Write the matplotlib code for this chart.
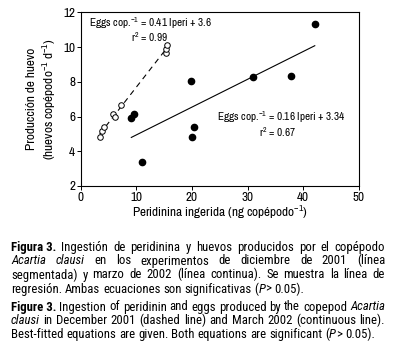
import matplotlib
matplotlib.use('Agg')
import matplotlib.pyplot as plt
import numpy as np

# DATA
# December 2001 (open circles, dashed line)
dec_x = [3.4, 3.9, 4.2, 5.8, 6.1, 7.2, 15.4, 15.3, 15.5]
dec_y = [4.82, 5.16, 5.37, 6.14, 5.98, 6.64, 9.64, 9.89, 10.14]

# March 2002 (filled circles, continuous line)
mar_x = [9.1, 9.6, 11.0, 19.8, 20.1, 20.4, 30.9, 37.8, 42.1]
mar_y = [5.91, 6.14, 3.4, 8.03, 4.83, 5.41, 8.25, 8.34, 11.33]
mar_fit = [0.16, 3.34]

x_ticks = [0, 10, 20, 30, 40, 50]
y_ticks = [2, 4, 6, 8, 10, 12]

FONT = ['Archivo Narrow', 'Roboto Condensed', 'Liberation Sans', 'DejaVu Sans']
CAP_FONT = ['Roboto Condensed', 'Liberation Sans', 'DejaVu Sans']
plt.rcParams['font.family'] = FONT
plt.rcParams['mathtext.fontset'] = 'custom'
plt.rcParams['mathtext.rm'] = 'Archivo Narrow'
plt.rcParams['mathtext.it'] = 'Archivo Narrow:italic'
plt.rcParams['mathtext.default'] = 'regular'

W, H = 394, 352
fig = plt.figure(figsize=(W / 100, H / 100), dpi=100)
ax = fig.add_axes([80.7 / W, 1 - 186 / H, (358.7 - 80.7) / W, (186 - 12.3) / H])

# dashed regression (December)
dec_fit = np.polyfit(dec_x, dec_y, 1)
xd = np.array([min(dec_x), max(dec_x)])
ax.plot(xd, np.polyval(dec_fit, xd), color='black', lw=0.8, dashes=(5, 4))
ax.plot(dec_x, dec_y, 'o', mfc='white', mec='black', ms=4, mew=0.7)

# continuous regression (March)
xm = np.array([min(mar_x), max(mar_x)])
ax.plot(xm, np.polyval(mar_fit, xm), color='black', lw=0.8)
ax.plot(mar_x, mar_y, 'o', color='black', ms=4.5)

ax.set_xlim(0, 50)
ax.set_ylim(2, 12)
ax.set_xticks(x_ticks)
ax.set_yticks(y_ticks)
ax.tick_params(labelsize=9.5, length=3, width=0.7, pad=1)
for s in ax.spines.values():
    s.set_linewidth(0.8)

ax.set_xlabel('Peridinina ingerida (ng copépodo$^{-1}$)', fontsize=9.5, labelpad=1)
ax.set_ylabel('Producción de huevo\n(huevos copépodo$^{-1}$ d$^{-1}$)', fontsize=9.5,
              labelpad=4, linespacing=1.25)

ax.text(1.5, 11.35, 'Eggs cop.$^{-1}$ = 0.41 Iperi + 3.6', fontsize=8.1, va='center')
ax.text(12.4, 10.58, 'r$^{2}$ = 0.99', fontsize=8.1, va='center', ha='center')
ax.text(24.5, 5.95, 'Eggs cop.$^{-1}$ = 0.16 Iperi + 3.34', fontsize=8.1, va='center')
ax.text(35.4, 5.12, 'r$^{2}$ = 0.67', fontsize=8.1, va='center', ha='center')

# CAPTION (justified lines)
N = dict(style='normal', weight='normal')
I = dict(style='italic', weight='normal')
B = dict(style='normal', weight='bold')

def words(s, st=N):
    return [[(w, st)] for w in s.split()]

caption = [
    (250.7, True, [[('Figura 3.', B)]] + words('Ingestión de peridinina y huevos producidos por el copépodo')),
    (264.5, True, words('Acartia clausi', I) + words('en los experimentos de diciembre de 2001 (línea')),
    (278.5, True, words('segmentada) y marzo de 2002 (línea continua). Se muestra la línea de')),
    (292.7, False, words('regresión. Ambas ecuaciones son significativas')
     + [[('(', N), ('P', I), ('>', N)], [('0.05).', N)]]),
    (310.5, True, [[('Figure 3.', B)]] + words('Ingestion of peridinin and eggs produced by the copepod')
     + words('Acartia', I)),
    (324.5, True, words('clausi', I) + words('in December 2001 (dashed line) and March 2002 (continuous line).')),
    (338.3, False, words('Best-fitted equations are given. Both equations are significant')
     + [[('(', N), ('P', I), ('>', N)], [('0.05).', N)]]),
]

LEFT, RIGHT = 11, 385
renderer = fig.canvas.get_renderer()

def seg_width(txt, st, fs):
    t = fig.text(0, 0, txt, fontsize=fs, family=CAP_FONT,
                 fontstyle=st['style'], fontweight=st['weight'])
    w = t.get_window_extent(renderer).width
    t.remove()
    return w

def line_gap(line, fs):
    total = sum(seg_width(txt, st, fs) for w in line for txt, st in w)
    return (RIGHT - LEFT - total) / (len(line) - 1)

# largest caption size whose tightest lines still keep a normal word space
CAP_FS = 7.0
tight = [caption[0][2], caption[2][2], caption[4][2]]
for fs in np.arange(7.0, 13.01, 0.1):
    sp = seg_width('a a', N, fs) - 2 * seg_width('a', N, fs)
    if min(line_gap(l, fs) for l in tight) >= 1.0 * sp:
        CAP_FS = fs

space_w = seg_width('a a', N, CAP_FS) - 2 * seg_width('a', N, CAP_FS)

for base, justify, line in caption:
    widths = [[seg_width(txt, st, CAP_FS) for txt, st in w] for w in line]
    gap = line_gap(line, CAP_FS) if justify else space_w
    x = LEFT
    for w, ws in zip(line, widths):
        for (txt, st), sw in zip(w, ws):
            fig.text(x / W, 1 - base / H, txt, fontsize=CAP_FS, va='baseline', family=CAP_FONT,
                     fontstyle=st['style'], fontweight=st['weight'])
            x += sw
        x += gap

fig.savefig('out.png', dpi=100)
